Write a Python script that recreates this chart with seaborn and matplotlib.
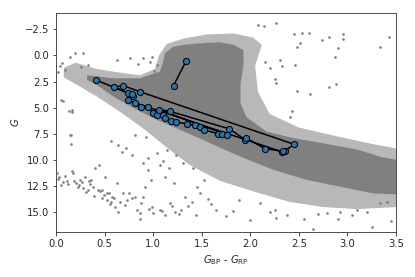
import numpy as np
import pandas as pd
import matplotlib
matplotlib.use('Agg')
import matplotlib.pyplot as plt
import seaborn as sns

# 背景星团：密集区与稀疏区的轮廓（颜色, G）
core_bp_rp = [0.32, 0.59, 0.865, 1.07, 1.105, 1.12, 1.21, 1.35, 1.55, 1.69, 1.83, 1.93,
              1.93, 1.90, 1.90, 1.96, 2.17, 2.44, 2.75, 3.10, 3.34, 3.51,
              3.51, 3.27, 2.92, 2.58, 2.24, 1.895, 1.55, 1.28, 1.04, 0.80, 0.59, 0.42, 0.32]
core_g = [1.9, 2.19, 2.19, 1.55, 0.6, -0.2, -0.84, -1.05, -1.2, -1.25, -1.0, -0.5,
          1.0, 2.7, 4.6, 5.9, 7.3, 7.9, 8.4, 9.0, 9.7, 10.0,
          13.3, 13.2, 12.55, 11.9, 10.95, 9.67, 8.24, 7.13, 6.17, 5.05, 3.94, 2.83, 2.35]

halo_bp_rp = [0.08, 0.2, 0.42, 0.69, 0.865, 1.02, 1.06, 1.14, 1.31, 1.55, 1.83, 2.03, 2.12,
              2.05, 2.08, 2.20, 2.50, 2.92, 3.27, 3.51,
              3.51, 3.10, 2.75, 2.40, 2.03, 1.69, 1.38, 1.14, 0.90, 0.69, 0.45, 0.25, 0.08]
halo_g = [1.2, 0.7, 1.3, 1.7, 1.9, 1.3, 0.0, -1.1, -1.6, -2.0, -2.1, -1.7, -1.0,
          1.0, 3.5, 5.6, 6.9, 7.8, 8.5, 8.9,
          14.5, 14.7, 14.5, 14.0, 13.0, 12.0, 10.5, 8.8, 7.0, 5.6, 4.1, 3.0, 2.1]

# 稀疏散点（颜色, G）
sparse_bp_rp = [2.08, 2.14, 2.27, 2.45, 2.53, 2.60, 2.74, 2.81, 2.96, 2.96, 2.90, 2.87, 3.34, 3.43,
                2.33, 2.46, 2.81, 2.88, 2.48, 2.62, 2.26, 2.27, 2.43, 2.41, 2.20, 2.15, 2.31, 2.48, 2.51,
                0.15, 0.007, 0.035, 0.075, 0.11, 0.16, 0.17, 0.21, 0.25, 0.30, 0.28, 0.33, 0.38, 0.44,
                0.40, 0.50, 0.45, 0.49, 0.52, 0.57, 0.625, 0.61, 0.64, 0.69, 0.73, 0.78, 0.81, 0.83,
                0.86, 0.86, 0.90, 0.92, 0.90, 0.985, 1.00, 1.07, 1.12, 1.17, 1.23, 1.29, 1.33, 1.40,
                1.48, 1.52, 1.21, 1.12, 1.16, 1.07, 1.24, 1.04, 1.14, 0.78, 0.68, 0.64, 0.81, 0.93,
                1.31, 1.41, 0.05, 0.13, 0.16, 0.155, 0.06, 0.14, 0.20, 0.28, 0.625, 0.76, 0.90, 0.99,
                1.04, 0.076, 0.16, 0.14, 0.57, 2.0, 2.65, 3.25, 2.26, 2.27, 2.79, 2.92, 3.10, 3.41,
                3.34, 2.38, 2.10, 0.24, 0.34, 0.55, 0.47, 0.36, 0.58, 0.95, 1.45, 1.6, 1.75,
                0.02, 0.05, 0.09, 0.12, 0.19, 0.23, 0.27, 0.31, 0.35, 0.39, 0.43, 0.47, 0.53, 0.56,
                0.60, 0.66, 0.71, 0.75, 0.88, 0.96, 1.09, 1.19, 1.27, 1.36, 1.44, 1.56, 1.65, 1.82,
                0.04, 0.09, 0.26, 0.33, 0.02, 0.97, 1.01, 0.84, 0.95, 1.1, 1.88, 2.2, 2.55, 2.7,
                2.9, 3.05, 3.2, 3.45, 0.72, 0.98]
sparse_g = [-2.91, -2.82, -3.13, -2.02, -2.12, -2.12, -1.48, -1.74, -2.02, -1.54, -0.74, 0.18, -0.84, -1.74,
            0.98, 0.94, 2.99, 2.76, 3.37, 3.71, 2.28, 2.60, 5.31, 5.86, 1.23, 0.60, 0.44, -0.84, -1.16,
            8.47, 11.27, 11.6, 12.07, 11.97, 11.1, 11.2, 12.22, 11.9, 11.6, 12.7, 12.86, 12.55, 10.47,
            10.8, 11.6, 13.0, 13.34, 13.8, 13.98, 12.22, 14.46, 14.94, 13.18, 13.8, 13.65, 13.5, 14.78,
            15.1, 15.67, 13.5, 12.55, 10.3, 14.46, 15.1, 14.78, 15.25, 14.13, 14.94, 14.78, 13.5, 13.98,
            13.18, 11.9, 12.22, 11.6, 10.8, 10.47, 9.5, 9.35, 9.04, 9.5, 9.2, 8.56, 7.6, 7.77,
            10.3, 10.8, 4.26, 5.31, 5.38, 7.6, 0.75, 0.12, -0.2, -0.2, 0.43, 0.27, 0.27, 0.12,
            0.91, 4.41, 5.2, 7.6, 8.2, 15.73, 16.6, 16.4, 14.78, 15.57, 15.1, 14.94, 14.78, 13.98,
            14.13, 15.25, 14.13, 12.4, 12.0, 13.2, 12.9, 11.9, 13.5, 11.0, 12.6, 14.2, 15.4,
            11.8, 12.4, 11.5, 12.3, 12.0, 12.6, 12.1, 13.1, 12.3, 13.4, 12.9, 13.6, 13.2, 14.2,
            13.6, 14.0, 14.3, 13.2, 14.1, 14.7, 14.9, 14.4, 15.2, 14.4, 15.3, 13.7, 14.8, 14.9,
            1.0, 1.4, 1.1, 0.9, 1.6, 0.6, 1.5, 0.8, 9.8, 10.1, 13.8, 15.0, 15.6, 15.2,
            15.6, 15.3, 15.0, 15.8, 8.9, 11.9]

# 目标星的轨迹点
track_bp_rp = [0.41, 0.745, 0.79, 0.78, 0.60, 0.69, 0.86, 2.45, 2.36, 2.33,
               0.81, 0.745, 0.87, 0.95, 1.00, 1.04, 1.105, 1.12, 1.18, 1.24,
               1.345, 1.43, 1.48, 1.52, 1.67, 1.71, 1.76, 1.06, 1.17, 1.785,
               1.95, 1.96, 2.15, 2.34]
track_g = [2.35, 3.62, 3.85, 3.72, 3.05, 2.89, 3.46, 8.50, 9.13, 9.23,
           4.52, 4.30, 4.96, 4.96, 5.50, 5.70, 5.66, 5.98, 6.24, 6.37,
           6.55, 6.68, 6.87, 7.10, 7.50, 7.50, 7.60, 5.18, 5.34, 7.03,
           8.08, 7.92, 8.91, 9.18]
short_bp_rp = [1.34, 1.21]
short_g = [0.53, 2.89]

sns.set_style('ticks')
plt.rcParams['font.family'] = ['DejaVu Sans']
plt.rcParams['font.size'] = 10

fig, ax = plt.subplots(figsize=(415 / 72, 277 / 72), dpi=72)
fig.subplots_adjust(left=0.135, right=0.954, top=0.953, bottom=0.162)

ax.fill(halo_bp_rp, halo_g, color='#b8b8b8', lw=0, zorder=1)
ax.fill(core_bp_rp, core_g, color='#808080', lw=0, zorder=2)
sns.scatterplot(x=sparse_bp_rp, y=sparse_g, ax=ax, color='#808080', s=7,
                linewidth=0, zorder=3)

tracks = pd.DataFrame({
    'bp_rp': track_bp_rp + short_bp_rp,
    'g': track_g + short_g,
    'unit': ['a'] * len(track_g) + ['b'] * len(short_g),
})
sns.lineplot(data=tracks, x='bp_rp', y='g', units='unit', estimator=None, sort=False,
             color='black', lw=1.5, ax=ax, zorder=4)
sns.scatterplot(data=tracks, x='bp_rp', y='g', ax=ax, color='#1f77b4', s=38,
                edgecolor='black', linewidth=1.0, zorder=5)

ax.set_xlim(0, 3.5)
ax.set_ylim(16.9, -4.05)
ax.set_yticks([-2.5, 0, 2.5, 5, 7.5, 10, 12.5, 15])
ax.set_xlabel(r'$G_{\rm BP}$ - $G_{\rm RP}$')
ax.set_ylabel(r'$G$')

plt.savefig('out.png', dpi=72)
